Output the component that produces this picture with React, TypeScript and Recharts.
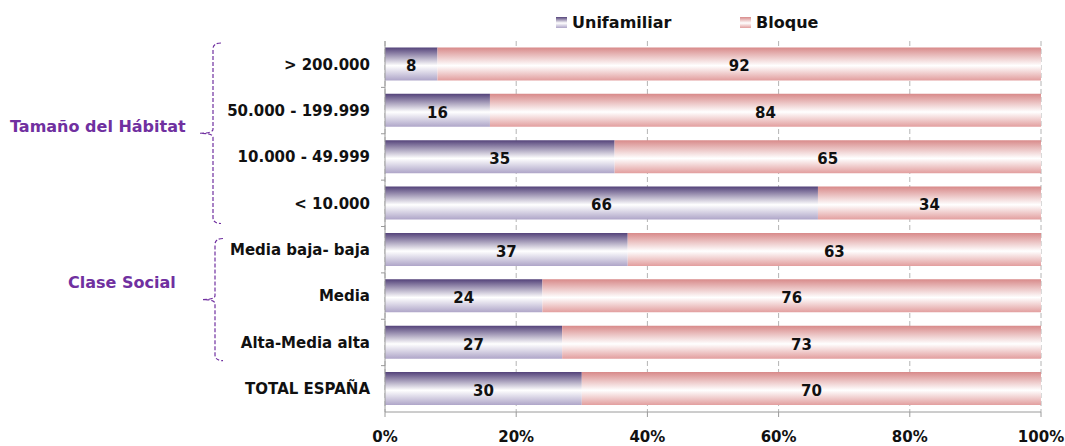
import { BarChart, Bar, XAxis, YAxis, CartesianGrid, LabelList } from "recharts";

const categories = [
  "> 200.000",
  "50.000 - 199.999",
  "10.000 - 49.999",
  "< 10.000",
  "Media baja- baja",
  "Media",
  "Alta-Media alta",
  "TOTAL ESPAÑA",
];
const unifamiliar = [8, 16, 35, 66, 37, 24, 27, 30];
const bloque = [92, 84, 65, 34, 63, 76, 73, 70];
const xTicks = [0, 20, 40, 60, 80, 100];

const data = categories.map((name, i) => ({ name, unifamiliar: unifamiliar[i], bloque: bloque[i] }));

const W = 1065;
const H = 446;
const TOP = 41;
const BOTTOM = 412;
const band = (BOTTOM - TOP) / categories.length;
const FONT = "'DejaVu Sans', Verdana, sans-serif";
const PURPLE = "#7030a0";

function bracePath(x: number, y1: number, y2: number, tipX: number, tipY: number) {
  return `M ${x + 8} ${y1} Q ${x} ${y1} ${x} ${y1 + 6} L ${x} ${tipY - 4} Q ${x} ${tipY} ${tipX} ${tipY} Q ${x} ${tipY} ${x} ${tipY + 4} L ${x} ${y2 - 6} Q ${x} ${y2} ${x + 8} ${y2}`;
}

const labelStyle = { fontFamily: FONT, fontWeight: "bold", fontSize: 15, fill: "#111" };

export default function App() {
  // group brackets, derived from the category band positions
  const g1Top = TOP + 2;
  const g1Bot = TOP + band * 4 - 3;
  const g2Top = TOP + band * 4 + 12;
  const g2Bot = TOP + band * 7 - 5;
  // small ticks on the left axis between categories
  const bounds = categories.slice(1).map((_, i) => TOP + band * (i + 1));
  return (
    <div style={{ position: "absolute", left: 0, top: 0, width: W, height: H, background: "#fff" }}>
      <BarChart
        width={W}
        height={H}
        data={data}
        layout="vertical"
        margin={{ top: TOP, right: 24, bottom: 0, left: 185 }}
        barCategoryGap="14%"
      >
        <defs>
          <linearGradient id="gradUni" x1="0" y1="0" x2="0" y2="1">
            <stop offset="0%" stopColor="#54437a" />
            <stop offset="55%" stopColor="#ffffff" />
            <stop offset="100%" stopColor="#aea5c8" />
          </linearGradient>
          <linearGradient id="gradBlo" x1="0" y1="0" x2="0" y2="1">
            <stop offset="0%" stopColor="#d88a8a" />
            <stop offset="55%" stopColor="#ffffff" />
            <stop offset="100%" stopColor="#e29e9e" />
          </linearGradient>
        </defs>
        <CartesianGrid horizontal={false} stroke="#b4b4b4" strokeDasharray="5 3" />
        <XAxis
          type="number"
          domain={[0, 100]}
          ticks={xTicks}
          tickFormatter={(v: number) => `${v}%`}
          stroke="#9a9a9a"
          tickSize={5}
          tickMargin={14}
          tick={{ fontFamily: FONT, fontWeight: "bold", fontSize: 15, fill: "#111" }}
          height={34}
          interval={0}
        />
        <YAxis
          type="category"
          dataKey="name"
          width={200}
          stroke="#9a9a9a"
          tickLine={false}
          tickSize={6}
          tickMargin={9}
          tick={{ fontFamily: FONT, fontWeight: "bold", fontSize: 15, fill: "#111" }}
          interval={0}
        />
        <Bar dataKey="unifamiliar" name="Unifamiliar" stackId="a" fill="url(#gradUni)" isAnimationActive={false}>
          <LabelList dataKey="unifamiliar" position="center" dy={2} style={labelStyle} />
        </Bar>
        <Bar dataKey="bloque" name="Bloque" stackId="a" fill="url(#gradBlo)" isAnimationActive={false}>
          <LabelList dataKey="bloque" position="center" dy={2} style={labelStyle} />
        </Bar>
      </BarChart>
      <svg width={W} height={H} style={{ position: "absolute", left: 0, top: 0, pointerEvents: "none" }}>
        <defs>
          <linearGradient id="legUni" x1="0" y1="0" x2="0" y2="1">
            <stop offset="0%" stopColor="#54437a" />
            <stop offset="55%" stopColor="#ffffff" />
            <stop offset="100%" stopColor="#aea5c8" />
          </linearGradient>
          <linearGradient id="legBlo" x1="0" y1="0" x2="0" y2="1">
            <stop offset="0%" stopColor="#d88a8a" />
            <stop offset="55%" stopColor="#ffffff" />
            <stop offset="100%" stopColor="#e29e9e" />
          </linearGradient>
        </defs>
        {bounds.map((y) => (
          <line key={y} x1={381} x2={385} y1={y} y2={y} stroke="#9a9a9a" />
        ))}
        <rect x={556} y={17} width={11} height={11} fill="url(#legUni)" />
        <text x={572} y={28} fontFamily={FONT} fontWeight="bold" fontSize={16} fill="#111">
          Unifamiliar
        </text>
        <rect x={740} y={17} width={11} height={11} fill="url(#legBlo)" />
        <text x={756} y={28} fontFamily={FONT} fontWeight="bold" fontSize={16} fill="#111">
          Bloque
        </text>
        <path
          d={bracePath(213, g1Top, g1Bot, 200, (g1Top + g1Bot) / 2)}
          fill="none"
          stroke={PURPLE}
          strokeWidth={1.2}
          strokeDasharray="4 2"
        />
        <path
          d={bracePath(215, g2Top, g2Bot, 203, (g2Top + g2Bot) / 2)}
          fill="none"
          stroke={PURPLE}
          strokeWidth={1.2}
          strokeDasharray="4 2"
        />
        <text x={10} y={132} fontFamily={FONT} fontWeight="bold" fontSize={16} fill={PURPLE}>
          Tamaño del Hábitat
        </text>
        <text x={68} y={288} fontFamily={FONT} fontWeight="bold" fontSize={16} fill={PURPLE}>
          Clase Social
        </text>
      </svg>
    </div>
  );
}
